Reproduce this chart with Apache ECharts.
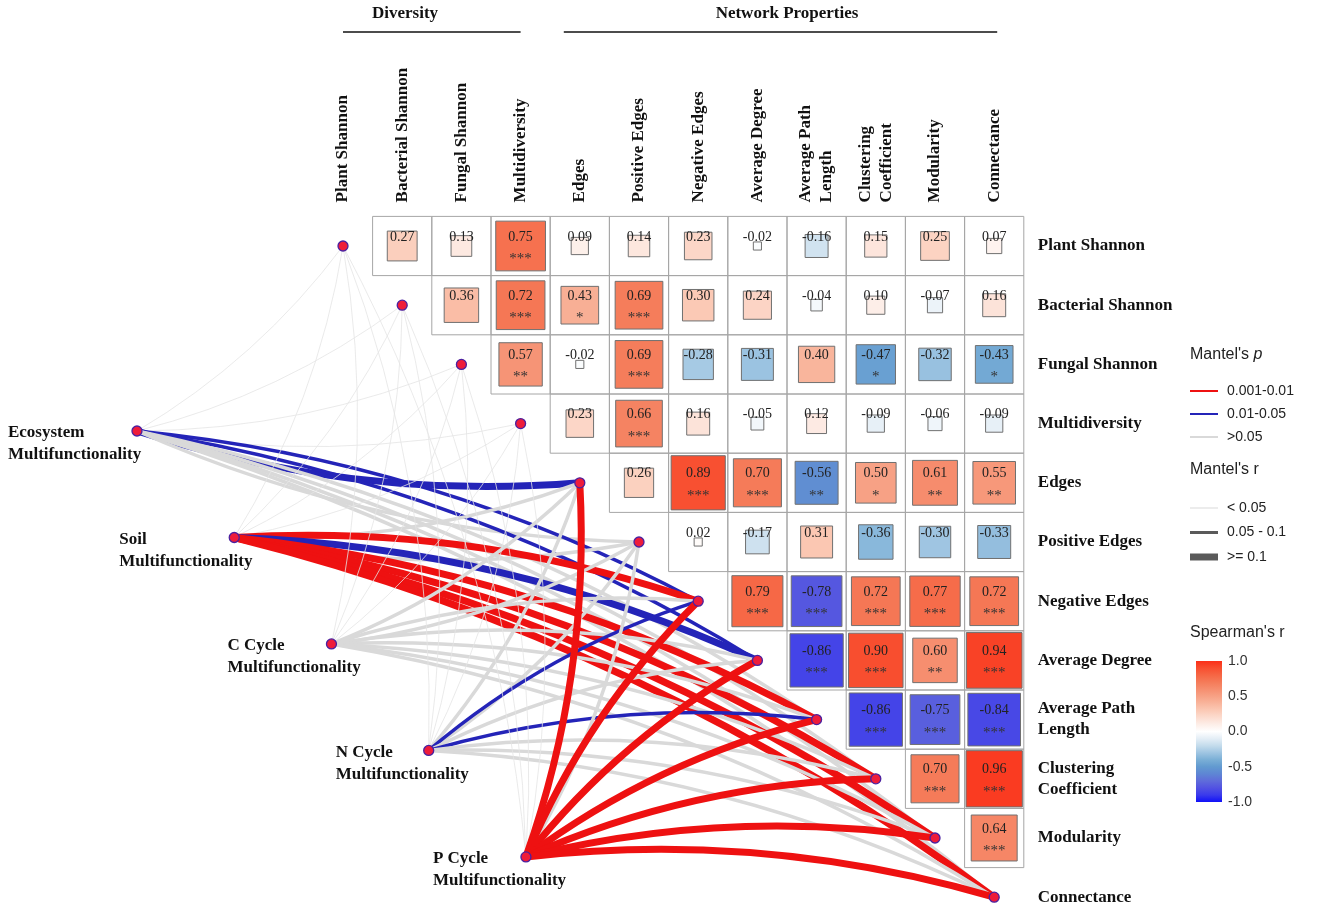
<!DOCTYPE html>
<html><head><meta charset="utf-8">
<script src="https://cdn.jsdelivr.net/npm/echarts/dist/echarts.min.js"></script>
<style>html,body{margin:0;padding:0;background:#fff}#c{width:1325px;height:914px}</style>
</head><body><div id="c"></div>
<script>
// ---------------- DATA ----------------
const variables = ['Plant Shannon','Bacterial Shannon','Fungal Shannon','Multidiversity','Edges','Positive Edges','Negative Edges','Average Degree','Average Path\nLength','Clustering\nCoefficient','Modularity','Connectance'];
// Spearman's r, upper triangle: row i holds columns i+1 .. 11
const corrRow0  = [0.27, 0.13, 0.75, 0.09, 0.14, 0.23, -0.02, -0.16, 0.15, 0.25, 0.07];
const corrRow1  = [0.36, 0.72, 0.43, 0.69, 0.30, 0.24, -0.04, 0.10, -0.07, 0.16];
const corrRow2  = [0.57, -0.02, 0.69, -0.28, -0.31, 0.40, -0.47, -0.32, -0.43];
const corrRow3  = [0.23, 0.66, 0.16, -0.05, 0.12, -0.09, -0.06, -0.09];
const corrRow4  = [0.26, 0.89, 0.70, -0.56, 0.50, 0.61, 0.55];
const corrRow5  = [0.02, -0.17, 0.31, -0.36, -0.30, -0.33];
const corrRow6  = [0.79, -0.78, 0.72, 0.77, 0.72];
const corrRow7  = [-0.86, 0.90, 0.60, 0.94];
const corrRow8  = [-0.86, -0.75, -0.84];
const corrRow9  = [0.70, 0.96];
const corrRow10 = [0.64];
const starRow0  = ['','','***','','','','','','','',''];
const starRow1  = ['','***','*','***','','','','','',''];
const starRow2  = ['**','','***','','','','*','','*'];
const starRow3  = ['','***','','','','','',''];
const starRow4  = ['','***','***','**','*','**','**'];
const starRow5  = ['','','','','',''];
const starRow6  = ['***','***','***','***','***'];
const starRow7  = ['***','***','**','***'];
const starRow8  = ['***','***','***'];
const starRow9  = ['***','***'];
const starRow10 = ['***'];

// Mantel tests: environment groups vs the 12 variables
const envNames = ['Ecosystem\nMultifunctionality','Soil\nMultifunctionality','C Cycle\nMultifunctionality','N Cycle\nMultifunctionality','P Cycle\nMultifunctionality'];
const pClasses = ['0.001-0.01','0.01-0.05','>0.05'];
const rClasses = ['< 0.05','0.05 - 0.1','>= 0.1'];
// p class per target (R = 0.001-0.01, B = 0.01-0.05, G = >0.05)
const mantelP_Ecosystem = ['G','G','G','G','B','G','B','B','G','G','G','G'];
const mantelP_Soil      = ['G','G','G','G','G','G','R','B','R','R','R','R'];
const mantelP_CCycle    = ['G','G','G','G','G','G','G','G','G','G','G','G'];
const mantelP_NCycle    = ['G','G','G','G','G','G','B','G','B','G','G','G'];
const mantelP_PCycle    = ['G','G','G','G','R','G','R','R','R','R','R','R'];
// r class per target (0 = <0.05, 1 = 0.05-0.1, 2 = >=0.1)
const mantelR_Ecosystem = [0,0,0,0,2,1,1,1,1,1,1,1];
const mantelR_Soil      = [0,0,0,0,1,1,2,2,2,2,2,2];
const mantelR_CCycle    = [0,0,0,0,1,1,1,1,1,1,1,1];
const mantelR_NCycle    = [0,0,0,0,1,1,1,1,1,1,1,1];
const mantelR_PCycle    = [0,0,0,0,2,1,2,2,2,2,2,2];
const colorbarTicks = [-1, -0.5, 0, 0.5, 1];

// ---------------- LAYOUT / STYLE ----------------
const X0 = 343, Y0 = 246, CELL = 59.2;
const envStart = [-3.48, 3.125], envEnd = [3.09, 10.32];   // env nodes evenly spaced on this segment
const envLabelDx = [-129, -115, -104, -93, -93];
const SERIF = '"Liberation Serif","Times New Roman",serif';
const SANS = '"Liberation Sans",Arial,sans-serif';
const pal = ['#1010f8','#3a3aec','#5252e2','#5f6cda','#5e86d4','#629ad0','#7aafd6','#9fc5e2','#c4dcec','#e4eef6','#ffffff','#fdeee8','#fcdccf','#fbc9b5','#f9b59c','#f7a185','#f68e6f','#f57b59','#f66644','#f84e2f','#fb2f18'];
const pColor = {R:'#ee1111', B:'#2424b8', G:'#d9d9d9'};
const rWidth = [0.8, 3.5, 7];

const corrRows = [corrRow0,corrRow1,corrRow2,corrRow3,corrRow4,corrRow5,corrRow6,corrRow7,corrRow8,corrRow9,corrRow10];
const starRows = [starRow0,starRow1,starRow2,starRow3,starRow4,starRow5,starRow6,starRow7,starRow8,starRow9,starRow10];
const cellData = [], cellStars = [];
corrRows.forEach((row, i) => row.forEach((v, k) => {
  cellData.push([i + 1 + k, i, v]);
  cellStars.push(starRows[i][k]);
}));

const mantelP = [mantelP_Ecosystem, mantelP_Soil, mantelP_CCycle, mantelP_NCycle, mantelP_PCycle];
const mantelR = [mantelR_Ecosystem, mantelR_Soil, mantelR_CCycle, mantelR_NCycle, mantelR_PCycle];

const nodes = [];
variables.forEach((v, i) => nodes.push({name: 'V' + i, value: [i, i]}));
const envPos = envNames.map((n, e) => {
  const t = e / (envNames.length - 1);
  return [envStart[0] + (envEnd[0] - envStart[0]) * t, envStart[1] + (envEnd[1] - envStart[1]) * t];
});
envNames.forEach((n, e) => nodes.push({
  name: 'E' + e, value: envPos[e],
  label: {show: true, position: 'inside', align: 'left', verticalAlign: 'top', offset: [envLabelDx[e], -9],
    formatter: n, fontFamily: SERIF, fontWeight: 'bold', fontSize: 17, lineHeight: 22, color: '#111'}
}));
const M = [5.5, 5.5];
const links = [];
envNames.forEach((n, e) => {
  const E = envPos[e];
  variables.forEach((v, t) => {
    const dx = t - E[0], dy = t - E[1];
    const s = dy * (M[0] - E[0]) - dx * (M[1] - E[1]);
    const thin = mantelR[e][t] === 0;
    links.push({source: 'E' + e, target: 'V' + t,
      lineStyle: {color: thin ? '#e4e4e4' : pColor[mantelP[e][t]], width: rWidth[mantelR[e][t]], opacity: 1, curveness: s >= 0 ? 0.1 : -0.1}});
  });
});

const chart = echarts.init(document.getElementById('c'));
const boldLabel = {fontFamily: SERIF, fontWeight: 'bold', fontSize: 17, color: '#111'};

const legendG = [];
function txt(x, y, text, extra) {
  legendG.push(Object.assign({type: 'text', x: x, y: y, style: Object.assign({text: text, fill: '#222', font: '15px ' + SANS, verticalAlign: 'middle'}, extra || {})}));
}
function ln(x1, y1, x2, y2, color, w) {
  legendG.push({type: 'line', shape: {x1: x1, y1: y1, x2: x2, y2: y2}, style: {stroke: color, lineWidth: w}});
}
// headings
legendG.push({type: 'text', x: 405, y: 14, style: {text: 'Diversity', font: 'bold 17px ' + SERIF, fill: '#111', align: 'center', verticalAlign: 'middle'}});
legendG.push({type: 'text', x: 787, y: 14, style: {text: 'Network Properties', font: 'bold 17px ' + SERIF, fill: '#111', align: 'center', verticalAlign: 'middle'}});
ln(X0, 32, X0 + 3 * CELL, 32, '#111', 1.5);
ln(X0 + 4 * CELL - 16, 32, X0 + 11 * CELL + 3, 32, '#111', 1.5);
// Mantel's p
legendG.push({type: 'text', x: 1190, y: 355, style: {text: "{a|Mantel's }{b|p}", verticalAlign: 'middle', rich: {a: {font: '16px ' + SANS, fill: '#222'}, b: {font: 'italic 16px ' + SANS, fill: '#222'}}}});
const pKeys = ['R', 'B', 'G'];
pClasses.forEach((c, k) => { const y = 391 + k * 23; ln(1190, y, 1218, y, pColor[pKeys[k]], 2); txt(1227, y, c, {font: '14px ' + SANS}); });
txt(1190, 470, "Mantel's r", {font: '16px ' + SANS});
rClasses.forEach((c, k) => { const y = 508 + k * 24.5; ln(1190, y, 1218, y, k === 0 ? '#d9d9d9' : '#5a5a5a', k === 0 ? 1 : (k === 1 ? 3 : 7)); txt(1227, y, c, {font: '14px ' + SANS}); });
txt(1190, 633, "Spearman's r", {font: '16px ' + SANS});

const option = {
  animation: false,
  backgroundColor: '#fff',
  grid: [
    {left: X0 - CELL / 2, top: Y0 - CELL / 2, width: 12 * CELL, height: 12 * CELL, outerBoundsMode: 'none', containLabel: false},
    {left: X0 - 5.5 * CELL, top: Y0 - CELL / 2, width: 17 * CELL, height: 12 * CELL, outerBoundsMode: 'none', containLabel: false},
    {left: 1196, top: 661, width: 26, height: 141, outerBoundsMode: 'none', containLabel: false}
  ],
  xAxis: [
    {gridIndex: 0, type: 'category', data: variables, position: 'top',
      axisLine: {show: false}, axisTick: {show: false}, splitLine: {show: false},
      axisLabel: Object.assign({rotate: -90, margin: 14, interval: 0, lineHeight: 21}, boldLabel)},
    {gridIndex: 1, type: 'value', min: -5.5, max: 11.5, show: false},
    {gridIndex: 2, type: 'value', min: 0, max: 1, show: false}
  ],
  yAxis: [
    {gridIndex: 0, type: 'category', data: variables, inverse: true, position: 'right',
      axisLine: {show: false}, axisTick: {show: false}, splitLine: {show: false},
      axisLabel: Object.assign({margin: 14, interval: 0, align: 'left', lineHeight: 21}, boldLabel)},
    {gridIndex: 1, type: 'value', min: -0.5, max: 11.5, inverse: true, show: false},
    {gridIndex: 2, type: 'value', min: colorbarTicks[0], max: colorbarTicks[colorbarTicks.length - 1], interval: 0.5, position: 'right', z: 5,
      axisLine: {show: false}, splitLine: {show: false},
      axisTick: {show: true, inside: true, length: 4, lineStyle: {color: '#ffffff', width: 1}},
      axisLabel: {margin: 6, color: '#333', fontFamily: SANS, fontSize: 14, formatter: v => v.toFixed(1)}}
  ],
  visualMap: {type: 'continuous', show: false, min: -1, max: 1, dimension: 2, seriesIndex: 1, inRange: {color: pal}},
  graphic: legendG,
  series: [
    {type: 'graph', coordinateSystem: 'cartesian2d', xAxisIndex: 1, yAxisIndex: 1, z: 2, silent: true,
      symbol: 'circle', symbolSize: 10,
      itemStyle: {color: '#ee1c3a', borderColor: '#4a20a0', borderWidth: 1.3},
      label: {show: false}, lineStyle: {opacity: 1},
      data: nodes, links: links},
    {type: 'custom', xAxisIndex: 0, yAxisIndex: 0, z: 3, silent: true, data: cellData,
      renderItem: function (params, api) {
        const c = api.value(0), r = api.value(1), v = api.value(2);
        const p = api.coord([c, r]);
        const sz = api.size([1, 1]);
        const w = sz[0], h = sz[1];
        const s = Math.sqrt(Math.abs(v)) * w * 0.97;
        const stars = cellStars[params.dataIndex];
        return {type: 'group', children: [
          {type: 'rect', shape: {x: p[0] - w / 2, y: p[1] - h / 2, width: w, height: h}, style: {fill: 'none', stroke: '#a6a6a6', lineWidth: 1}},
          {type: 'rect', shape: {x: p[0] - s / 2, y: p[1] - s / 2, width: s, height: s}, style: {fill: api.visual('color'), stroke: '#707070', lineWidth: 1}},
          {type: 'text', x: p[0], y: p[1] - 9, style: {text: v.toFixed(2), font: '14px ' + SERIF, fill: '#222', align: 'center', verticalAlign: 'middle'}},
          {type: 'text', x: p[0], y: p[1] + 13, style: {text: stars, font: '15px ' + SERIF, fill: '#333', align: 'center', verticalAlign: 'middle'}}
        ]};
      }},
    {type: 'custom', xAxisIndex: 2, yAxisIndex: 2, z: 1, silent: true, data: [[0, -1]],
      renderItem: function (params, api) {
        const a = api.coord([0, colorbarTicks[colorbarTicks.length - 1]]);
        const b = api.coord([1, colorbarTicks[0]]);
        const stops = pal.map((c, k) => ({offset: 1 - k / (pal.length - 1), color: c})).reverse();
        return {type: 'rect', shape: {x: a[0], y: a[1], width: b[0] - a[0], height: b[1] - a[1]},
          style: {fill: new echarts.graphic.LinearGradient(0, 0, 0, 1, stops)}};
      }}
  ]
};
chart.setOption(option);
</script></body></html>
